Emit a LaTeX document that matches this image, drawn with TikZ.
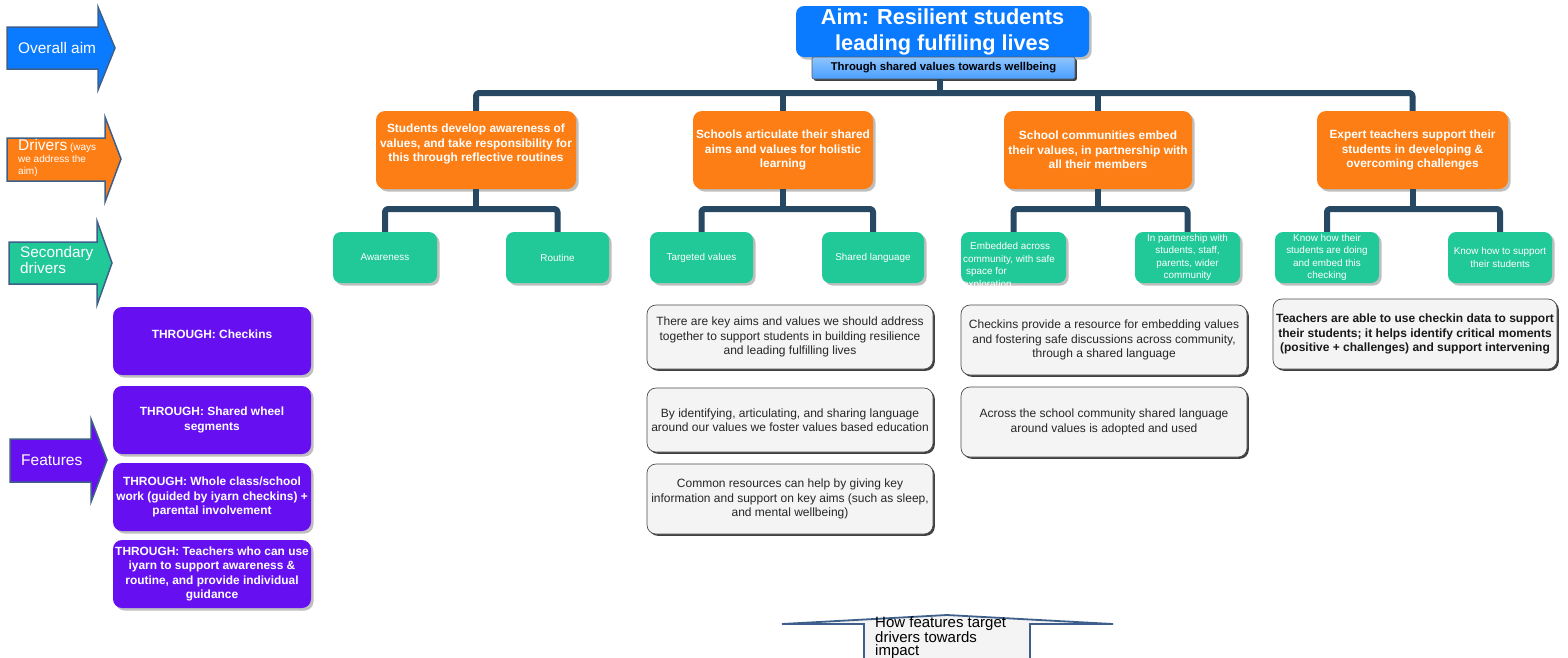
\documentclass[tikz,border=0pt]{standalone}
\usepackage{fontspec}
\setmainfont{Liberation Sans}
\usetikzlibrary{shadows}
\definecolor{aimblue}{HTML}{0A7BFF}
\definecolor{orng}{HTML}{FD7E14}
\definecolor{grn}{HTML}{20C997}
\definecolor{purp}{HTML}{6610F2}
\definecolor{treec}{HTML}{264863}
\definecolor{arrowedge}{HTML}{3E5F8A}
\definecolor{greyfill}{HTML}{F4F4F4}
\definecolor{subtop}{HTML}{8EC5FF}
\definecolor{subbot}{HTML}{4A9EFF}
\tikzset{
  base/.style={rounded corners=9pt, inner sep=1pt, align=center},
  lightshadow/.style={drop shadow={shadow xshift=2.5pt, shadow yshift=-2.5pt, fill=black!25, opacity=1}},
  darkshadow/.style={drop shadow={shadow xshift=1.8pt, shadow yshift=-1.8pt, fill=black!75, opacity=1}},
  drv/.style={base, lightshadow, fill=orng, text=white, font=\fontsize{11.9}{14.5}\selectfont\bfseries, minimum height=78pt},
  sec/.style={base, lightshadow, fill=grn, text=white, font=\fontsize{9.9}{12.4}\selectfont, minimum width=104pt, minimum height=51pt, rounded corners=8pt},
  feat/.style={base, lightshadow, fill=purp, text=white, font=\fontsize{11.9}{14.5}\selectfont\bfseries, minimum width=198pt, minimum height=68pt},
  note/.style={base, draw=black!70, line width=0.7pt, fill=greyfill, darkshadow, font=\fontsize{12}{14.5}\selectfont, text=black!85, minimum width=286pt},
  tree/.style={draw=treec, line width=6pt, rounded corners=3pt, line join=round},
  sidearrow/.style={draw=arrowedge, line width=1.5pt, line join=miter},
  sidetext/.style={text=white, inner sep=0pt, align=left},
}
\begin{document}
\begin{tikzpicture}[x=1pt, y=-1pt]
\useasboundingbox[fill=white] (0,0) rectangle (1568,657);

% ---- left side arrows ----
\path[sidearrow, fill=aimblue] (7,27) -- (98,27) -- (98,7) -- (115,48) -- (98,90) -- (98,69) -- (7,69) -- cycle;
\node[sidetext, anchor=west, font=\fontsize{15.4}{16}\selectfont] (lblaim) at (18,48) {Overall aim};

\path[sidearrow, fill=orng] (7,138) -- (105,138) -- (105,117) -- (121,159) -- (105,202) -- (105,181) -- (7,181) -- cycle;
\node[sidetext, anchor=north west, font=\fontsize{10}{12}\selectfont] (lbldrv) at (18,139.5) {\fontsize{15.5}{12}\selectfont Drivers\fontsize{10}{12}\selectfont\ (ways\\we address the\\aim)};

\path[sidearrow, fill=grn] (9,242) -- (97,242) -- (97,221) -- (112,263) -- (97,305) -- (97,284) -- (9,284) -- cycle;
\node[sidetext, anchor=west, font=\fontsize{15.3}{12}\selectfont] (lblsec) at (20,260) {Secondary\\drivers};

\path[sidearrow, fill=purp] (10,439) -- (91,439) -- (91,419) -- (107,460) -- (91,502) -- (91,482) -- (10,482) -- cycle;
\node[sidetext, anchor=west, font=\fontsize{15.5}{16}\selectfont] (lblfeat) at (21,460) {Features};

% ---- aim ----
\node[base, lightshadow, fill=aimblue, text=white, rounded corners=8pt, minimum width=293pt, minimum height=51pt, font=\fontsize{21.7}{26}\selectfont\bfseries] (aim) at (942.5,31.5) {Aim: Resilient students\\leading fulfiling lives};
\node[base, darkshadow, draw=black!65, line width=0.6pt, top color=subtop, bottom color=subbot, rounded corners=2pt, minimum width=263pt, minimum height=22pt, font=\fontsize{11.3}{13}\selectfont\bfseries, text=black] (sub) at (943.5,68) {Through shared values towards wellbeing};

% ---- drivers ----
\node[drv, minimum width=200pt] (d1) at (476,150) {Students develop awareness of\\values, and take responsibility for\\this through reflective routines\\\mbox{}};
\node[drv, minimum width=180pt] (d2) at (783,150) {Schools articulate their shared\\aims and values for holistic\\learning};
\node[drv, minimum width=188pt] (d3) at (1098,150) {School communities embed\\their values, in partnership with\\all their members};
\node[drv, minimum width=191pt] (d4) at (1412.5,150) {Expert teachers support their\\students in developing \&\\overcoming challenges};

% ---- secondary drivers ----
\node[sec] (c1a) at (385,257.5) {Awareness};
\node[sec, minimum width=103pt] (c1b) at (557.5,257.5) {Routine};
\node[sec, minimum width=103pt] (c2a) at (701.5,257.5) {Targeted values};
\node[sec, minimum width=102pt] (c2b) at (873,257.5) {Shared language};
\node[sec, minimum width=105pt] (c3a) at (1013.5,257.5) {};
\node[sidetext, anchor=north west, font=\fontsize{9.9}{12.4}\selectfont] (c3at) at (963,242.5) {\hspace*{7pt}Embedded across\\community, with safe\\\hspace*{3pt}space for\\exploration};
\node[sec, minimum width=105pt] (c3b) at (1187.5,257.5) {In partnership with\\students, staff,\\parents, wider\\community};
\node[sec] (c4a) at (1327,257.5) {Know how their\\students are doing\\and embed this\\checking};
\node[sec] (c4b) at (1500,257.5) {Know how to support\\their students};

% ---- tree connectors ----
\coordinate (hub) at (940,93);
\draw[tree] (hub |- sub.south) -- (hub);
\draw[tree] (d1.north) |- (hub) -| (d4.north);
\draw[tree] (d2.north) -- (d2.north |- hub);
\draw[tree] (d3.north) -- (d3.north |- hub);
\coordinate (b1) at (476,209);
\coordinate (b2) at (783,209);
\coordinate (b3) at (1098,209);
\coordinate (b4) at (1412.5,209);
\draw[tree] (d1.south) -- (b1);
\draw[tree] (c1a.north) |- (b1) -| (c1b.north);
\draw[tree] (d2.south) -- (b2);
\draw[tree] (c2a.north) |- (b2) -| (c2b.north);
\draw[tree] (d3.south) -- (b3);
\draw[tree] (c3a.north) |- (b3) -| (c3b.north);
\draw[tree] (d4.south) -- (b4);
\draw[tree] (c4a.north) |- (b4) -| (c4b.north);

% ---- notes ----
\node[note, minimum height=64pt] (g1) at (790,337) {There are key aims and values we should address\\together to support students in building resilience\\and leading fulfilling lives};
\node[note, minimum height=64pt] (g2) at (790,420) {By identifying, articulating, and sharing language\\around our values we foster values based education};
\node[note, minimum height=70pt] (g3) at (790,499) {Common resources can help by giving key\\information and support on key aims (such as sleep,\\and mental wellbeing)};
\node[note, minimum height=70pt] (g4) at (1104,340) {Checkins provide a resource for embedding values\\and fostering safe discussions across community,\\through a shared language};
\node[note, minimum height=70pt] (g5) at (1104,422) {Across the school community shared language\\around values is adopted and used};
\node[note, minimum height=70pt, minimum width=284pt, font=\fontsize{12}{14.5}\selectfont\bfseries, text=black!90] (g6) at (1415,334) {Teachers are able to use checkin data to support\\their students; it helps identify critical moments\\(positive + challenges) and support intervening};

% ---- features ----
\node[feat] (p1) at (212,341) {THROUGH: Checkins\\\mbox{}};
\node[feat] (p2) at (212,420) {THROUGH: Shared wheel\\segments};
\node[feat] (p3) at (212,497) {THROUGH: Whole class/school\\work (guided by iyarn checkins) +\\parental involvement};
\node[feat] (p4) at (212,574) {THROUGH: Teachers who can use\\iyarn to support awareness \&\\routine, and provide individual\\guidance};

% ---- bottom arrow ----
\path[draw=arrowedge, line width=1.8pt, fill=greyfill, line join=miter] (782,624) -- (947,615) -- (1113,624) -- (1030,624) -- (1030,665) -- (864,665) -- (864,624) -- cycle;
\node[anchor=north west, inner sep=0pt, align=left, font=\fontsize{15}{12.6}\selectfont, text=black] (impact) at (875,616.5) {How features target\\drivers towards\\impact};
\end{tikzpicture}
\end{document}
